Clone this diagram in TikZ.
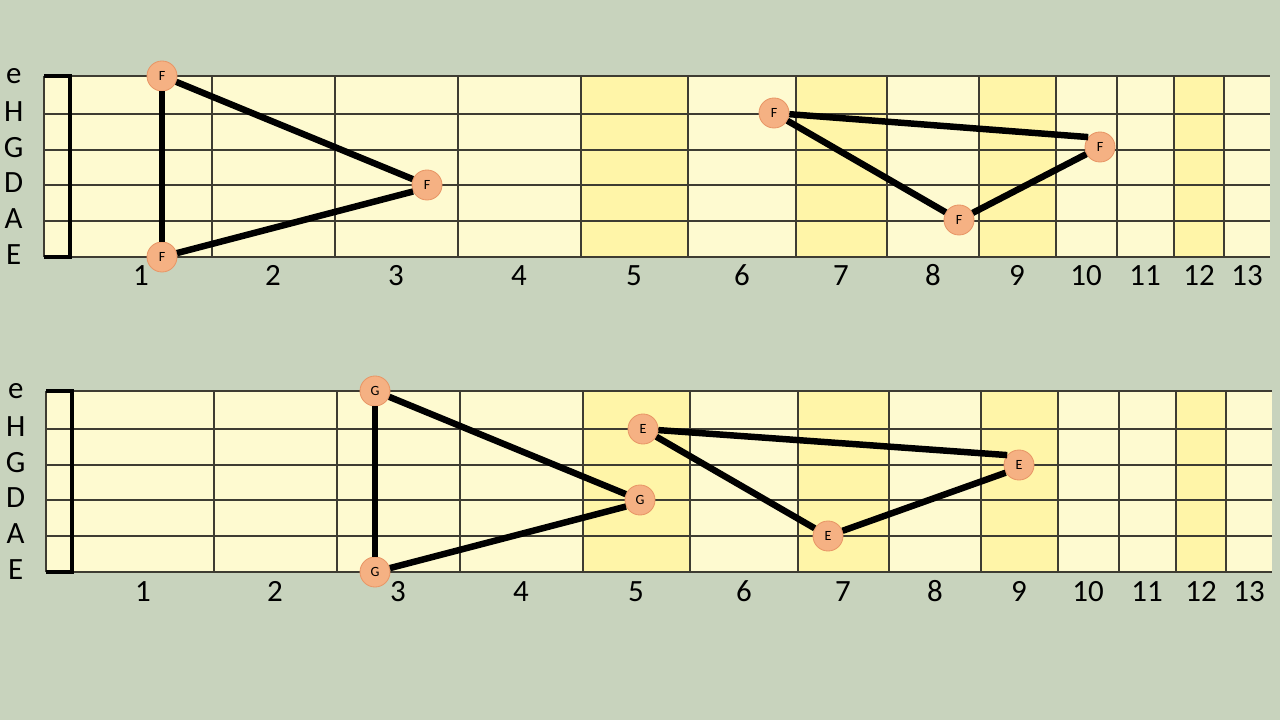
\documentclass[tikz,border=0pt]{standalone}
\usepackage{fontspec}
\setmainfont{Carlito}
\usepackage{tikz}
\usetikzlibrary{positioning}

\definecolor{bgGreen}{RGB}{200,211,189}
\definecolor{boardLight}{RGB}{254,250,208}
\definecolor{boardDark}{RGB}{255,245,168}
\definecolor{gridGrey}{RGB}{62,60,50}
\definecolor{noteFill}{RGB}{245,177,131}
\definecolor{noteEdge}{RGB}{232,150,102}

\tikzset{
  note/.style={circle, fill=noteFill, draw=noteEdge, line width=0.6pt,
    minimum size=0.75cm, inner sep=0pt, font=\fontsize{10}{10}\selectfont},
  triad/.style={black, line width=4.6pt},
  gridline/.style={gridGrey, line width=1pt},
  strname/.style={anchor=base, font=\fontsize{22}{22}\selectfont},
  fretnum/.style={anchor=base, font=\fontsize{22}{22}\selectfont}
}

% one fretboard, top string at y=0 (units are pixels)
\newcommand{\fretboard}[1]{%
  % board body
  \fill[boardLight] (44,0) rectangle (1270,181);
  % marked frets
  \foreach \a/\b in {581/688, 796/887, 979/1056, 1174/1224}
    \fill[boardDark] (\a,0) rectangle (\b,181);
  % strings
  \foreach \s in {0,38,74,109,145,181}
    \draw[gridline] (44,\s) -- (1270,\s);
  % frets
  \foreach \f in {44,212,335,458,581,688,796,887,979,1056,1117,1174,1224}
    \draw[gridline] (\f,0) -- (\f,181);
  % nut
  \draw[black, line width=2.2pt] (44,0) -- (70,0) -- (70,181) -- (44,181);
  % string names
  \foreach \n/\s in {e/0, H/38, G/74, D/109, A/145, E/181}
    \node[strname] (#1-str\n) at (13.7,\s+7.5) {\n};
  % fret numbers
  \foreach \n/\x in {1/141, 2/273, 3/396, 4/519, 5/634, 6/742, 7/841,
                     8/933, 9/1017, 10/1086, 11/1145, 12/1199, 13/1247}
    \node[fretnum] (#1-num\n) at (\x,210) {\n};
}

\begin{document}
\begin{tikzpicture}[x=0.025cm, y=-0.025cm]
  % background
  \fill[bgGreen] (0,0) rectangle (1280,720);
  \useasboundingbox (0,0) rectangle (1280,720);

  % upper board
  \begin{scope}[shift={(0,76)}]
    \fretboard{top}
  \end{scope}

  % lower board
  \begin{scope}[shift={(2,391)}]
    \fretboard{low}
  \end{scope}

  % F triads
  \node[note] (f1) at (162,76) {F};
  \node[note] (f2) at (162,257) {F};
  \node[note] (f3) at (427,185) {F};
  \node[note] (f4) at (774,113) {F};
  \node[note] (f5) at (1100,147) {F};
  \node[note] (f6) at (959,220) {F};
  \draw[triad] (f1) -- (f2);
  \draw[triad] (f1) -- (f3);
  \draw[triad] (f2) -- (f3.205);
  \draw[triad] (f4) -- (f5.140);
  \draw[triad] (f4) -- (f6);
  \draw[triad] (f6) -- (f5);

  % G and E triads
  \node[note] (g1) at (375,391) {G};
  \node[note] (g2) at (375,572) {G};
  \node[note] (g3) at (640,500) {G};
  \node[note] (e1) at (643,429) {E};
  \node[note] (e2) at (1019,465) {E};
  \node[note] (e3) at (828,536) {E};
  \draw[triad] (g1) -- (g2);
  \draw[triad] (g1) -- (g3);
  \draw[triad] (g2) -- (g3.205);
  \draw[triad] (e1) -- (e2.140);
  \draw[triad] (e1) -- (e3);
  \draw[triad] (e3) -- (e2.210);
\end{tikzpicture}
\end{document}
